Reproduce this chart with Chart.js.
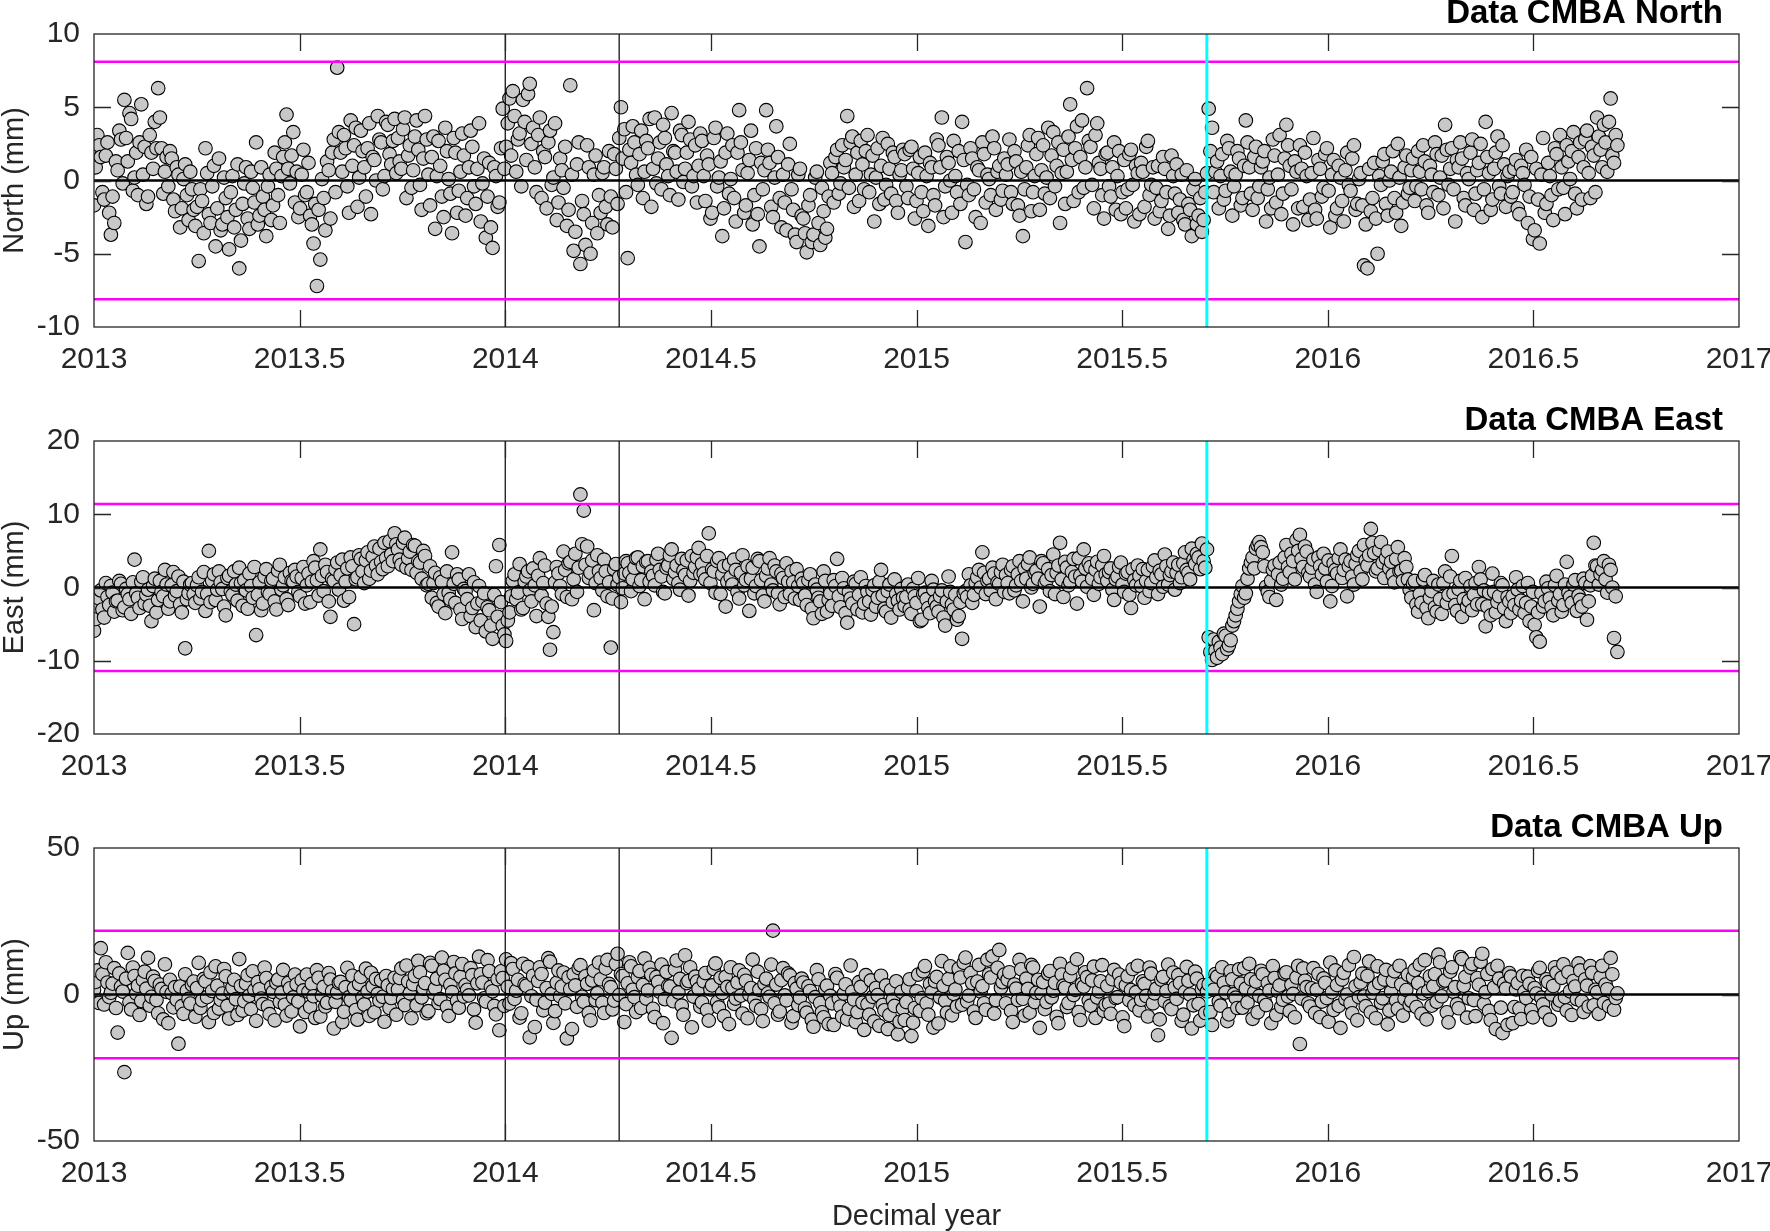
<!DOCTYPE html>
<html>
<head>
<meta charset="utf-8">
<script src="https://cdn.jsdelivr.net/npm/chart.js@4.4.1/dist/chart.umd.min.js"></script>
<style>
  html, body { margin: 0; padding: 0; background: #fff; }
  body { width: 1770px; height: 1231px; position: relative; overflow: hidden; }
  canvas { position: absolute; left: 0; }
</style>
</head>
<body>
<canvas id="north" width="1770" height="380" style="top:0px"></canvas>
<canvas id="east" width="1770" height="380" style="top:407px"></canvas>
<canvas id="up" width="1770" height="417" style="top:814px"></canvas>
<script>
// daily solutions read every 3 days from 2013.0 (main arrays)
// plus the in-between samples 1.5 days later (the *Mid arrays)
const START_YEAR = 2013.0;
const STEP_DAYS = 3;
const DAYS_PER_YEAR = 365.25;

const xTickRange = [2013, 2017];
const eventYears = [2014.0, 2014.277];   // thin black markers
const quakeYear = 2015.706;              // cyan marker

const northLimit = 8.1;
const eastLimit = 11.4;
const upLimit = 21.8;

// North (mm)
const north = [
  -1.7, 3.1, 1.6, -1.3, 2.6, -3.7, -2.9, 0.7, 2.8, 5.5, 1.3, 4.2, 0.2, -1.0, 5.2, 2.3, -1.1, 1.9, 4.0, 6.3, 2.2, 0.6, -0.4, 1.5, -2.1, 0.4, -1.9, 1.1, -2.7, -0.6,
  -3.1, -5.5, -1.4, 2.2, -2.3, -0.4, -4.5, 1.5, -3.0, -1.2, -4.7, 0.3, -2.0, -6.0, -1.6, 0.9, -3.3, -0.5, 2.6, -2.4, -1.1, -3.8, 0.4, -1.7, 0.8, -2.9, 1.6, 4.5, -0.2, 3.3,
  0.6, -1.9, 2.1, -0.8, -2.4, -4.3, -7.2, -5.4, -1.2, 1.3, -2.6, 2.8, 7.7, 1.9, 3.1, -0.4, 4.1, 2.4, -1.8, 3.4, 0.9, 2.2, -2.3, 1.4, 4.4, 2.6, 0.3, 3.8, 1.1, 4.2,
  2.9, 0.8, 4.3, 1.7, -0.5, 3.0, 2.1, -2.0, 4.4, 0.4, 1.6, -3.3, 2.7, -1.1, 3.6, 0.1, -3.6, 1.9, -0.7, 3.2, -2.4, 0.9, 2.3, -1.6, 3.9, -0.2, -3.9, 1.2, -4.6, 0.3,
  -1.5, 4.9, 2.3, 5.6, 6.1, 0.6, 3.2, 5.5, 1.4, 6.6, 3.6, -0.8, 4.3, 2.0, -1.9, 3.4, 0.2, -2.7, 1.5, -0.5, -3.1, 6.5, -4.8, 1.1, -5.7, -2.3, 2.4, -5.0, 0.4, -3.6,
  -2.2, 0.9, -3.0, -1.1, 1.8, -1.6, 5.0, 3.5, -5.3, 1.2, 2.6, -0.3, 3.4, 0.6, 2.2, -1.8, 4.3, 1.5, -0.6, 2.9, 0.3, 4.6, 1.9, -1.3, 3.1, 0.8, 4.0, -0.4, 2.4, 1.0,
  2.7, -1.4, 1.1, -2.2, 3.6, 0.2, -3.8, 1.9, -0.9, 2.4, -2.8, 4.8, 0.7, -1.7, 1.4, -3.0, 2.2, -4.5, -0.6, 4.8, 1.2, -2.5, 3.7, -1.2, 0.4, -3.4, 2.5, -2.0, -4.2, 0.8,
  -2.6, -4.9, -1.0, -3.7, 0.6, -4.4, -2.1, -3.3, 1.2, -1.5, 2.1, -0.2, 0.9, 4.4, 2.6, -1.8, 1.9, 2.7, -0.6, 3.1, 0.4, -2.8, 2.2, 1.0, -1.3, 2.5, -0.9, 1.6, -2.2, 0.7,
  1.8, -1.2, 2.3, -2.6, 0.5, -0.8, 1.9, -3.1, 0.9, -1.7, 2.4, 4.3, -0.4, 1.2, -2.2, 0.3, 2.0, 4.0, -4.2, -1.0, 1.5, -2.5, 0.7, 2.6, -1.5, 0.1, 3.0, -2.0, 1.0, -0.7,
  0.4, 2.8, -1.6, 1.3, -2.4, -3.8, 0.9, 3.1, -0.8, 1.8, -2.0, 2.4, 0.2, -1.2, 3.3, 1.0, -2.9, 2.1, 0.6, 5.2, -1.4, 3.7, 1.6, -0.5, 6.3, 2.3, -1.9, 3.9, 0.8, -2.6,
  1.9, -1.1, 2.6, 0.3, -2.3, 1.4, -0.6, 2.1, -2.8, 0.5, 1.2, -1.8, 2.7, -0.3, -2.6, 1.0, -1.4, 0.8, -3.3, 1.7, -0.9, -2.2, 0.4, -3.0, -1.6, -3.8, 0.1, -2.4, -3.5, -0.8,
  4.9, 3.6, 0.6, -1.9, 1.8, -0.7, 2.2, -2.4, 0.4, 1.5, -1.2, 4.1, 0.9, -2.0, 2.3, -0.4, 1.3, -2.8, 0.2, 2.8, -1.5, 3.1, -0.9, 3.8, 1.0, -3.0, 0.6, 2.4, -1.8, 0.3,
  -1.3, 2.9, -2.6, 0.8, -0.5, 2.2, -3.2, 1.4, -1.9, 0.2, -2.8, 1.9, -0.7, 2.4, -1.6, 0.5, -5.8, -6.0, -2.1, 1.2, -5.0, -0.3, 1.8, -2.4, 0.6, -1.2, 2.5, -3.1, 0.9, -0.9,
  0.7, -1.4, 2.0, -0.6, 1.3, -2.2, 0.4, 2.6, -1.0, 1.7, 3.8, -0.3, 2.2, -2.8, 0.9, 1.5, -1.7, 0.1, 2.8, -0.9, 1.2, -2.5, 4.0, 0.5, -1.3, 1.9, -0.4, 2.4, -1.8, 0.6,
  -0.8, 1.4, -2.3, 0.5, 2.1, -1.1, -4.0, 0.8, -4.3, 2.9, -1.6, 0.3, -2.7, 1.8, 3.1, -0.5, 2.4, 0.1, 3.3, -1.9, 2.6, 0.9, 3.4, -1.2, 1.7, 4.3, 2.1, 3.8, 0.6, 5.6, 1.2, 2.4
];
const northMid = [
  0.9, 2.4, -0.8, 1.7, -2.2, -1.1, 1.3, 3.4, -0.2, 2.9, 4.6, -0.7, 1.9, 2.6, 0.4, -1.6, 3.1, 0.8, 2.2, 4.3, -0.9, 1.6, 2.0, -1.3, 0.9, -3.2, 0.1, -1.0, 0.6, -2.0,
  -1.8, -0.6, -3.6, 0.5, -2.9, 1.0, -1.9, -3.4, 0.2, -2.5, -0.8, -3.2, 1.1, -4.1, -0.2, -2.6, 0.6, -1.5, -3.0, 0.9, -2.0, -0.4, -2.7, 1.9, -1.0, 0.3, 2.6, 0.8, 1.7, -1.5,
  -2.5, 0.4, -1.0, 1.2, -3.0, -1.6, -2.0, 0.1, -3.4, 0.7, 1.9, -0.8, 3.3, 0.6, 2.2, -2.2, 1.0, 3.6, 0.2, 2.0, -1.1, 3.9, 1.6, 0.0, 2.8, -0.6, 4.0, 1.8, 2.7, 0.5,
  1.3, 3.5, -1.2, 2.4, 0.7, 4.1, -0.3, 1.5, 2.8, -1.7, 3.0, 0.3, 1.0, -2.5, 2.0, -0.9, 2.9, -2.2, 0.6, 1.7, -1.2, 3.4, -0.4, 0.8, -2.8, 1.5, -1.1, -3.2, 0.9, -1.8,
  2.2, 0.8, 3.9, 1.7, 4.4, 2.8, -0.4, 4.0, 5.9, 2.5, 0.9, 3.1, -1.2, 1.6, 2.6, -0.3, 3.9, -1.5, 0.7, 2.3, -2.0, 0.4, -3.5, 2.6, -1.4, -4.4, 0.9, -2.9, 1.7, -1.0,
  0.5, -1.8, 2.0, -3.2, 0.8, 2.9, 1.5, -0.8, 2.1, 3.7, 0.4, 1.8, -1.2, 2.7, 4.2, 0.8, -0.2, 2.6, 3.8, 1.1, -1.0, 2.0, 0.6, 3.4, -0.1, 1.9, 2.8, 0.3, -1.5, 3.2,
  0.3, 1.7, -2.6, 2.9, -0.4, 1.3, -1.9, 3.2, 0.1, -1.2, 1.9, 2.6, -2.2, 0.5, 3.4, -1.0, -2.3, 1.2, 0.7, 2.1, -1.8, 0.2, 1.6, -3.2, -1.5, 1.1, -0.6, -3.7, 0.4, -2.4,
  -3.6, -1.7, -4.2, 0.2, -2.9, -0.5, -3.9, -1.1, 0.5, 1.6, -0.9, 2.4, 1.4, -0.5, 3.0, 0.4, -1.4, 1.1, 2.0, -0.8, 1.7, 0.2, -1.6, 2.9, -0.3, 0.8, 1.9, -1.4, 0.4, 2.1,
  -0.4, 2.1, 0.8, -1.4, 1.6, -2.1, 0.3, 1.2, -1.0, 2.8, 0.9, -2.5, 1.6, 0.0, 2.7, -0.8, -1.6, 1.4, -0.3, 2.2, -0.6, 0.9, -2.9, 1.8, 0.4, -1.0, 2.2, 0.6, -1.3, 1.5,
  1.1, -0.8, 2.0, -1.7, 0.6, -0.6, 2.4, -2.1, 0.3, 2.9, 0.7, -0.9, 3.6, 1.7, -0.4, 2.6, 0.5, -1.6, 3.0, 1.4, 2.2, -0.8, 4.1, 0.9, 2.7, -0.3, 3.1, 1.2, -1.0, 1.8,
  -0.4, 0.9, -2.0, 2.0, -0.8, -1.9, 1.8, -0.3, 1.0, -2.3, 0.6, 2.3, -1.0, 0.9, -0.5, -2.1, 1.6, -0.8, -2.4, 0.3, 1.1, -1.3, -2.7, 0.7, -2.0, -0.6, -3.0, -1.2, -2.7, 0.5,
  2.0, -0.8, 1.3, 0.3, -1.3, 2.7, 0.6, -0.4, 2.0, -1.7, 1.0, 2.6, -0.9, 1.6, -1.2, 0.9, 2.0, -0.6, -1.9, 1.7, 0.4, -2.3, 1.5, 2.4, -0.6, 1.3, -1.9, 0.8, 1.9, -2.7,
  0.5, -2.0, 1.4, -1.1, 1.8, -0.7, 0.4, -2.4, 1.0, -1.4, 0.7, -0.3, 1.5, -2.0, 0.1, -1.7, -3.0, 0.8, -1.2, -2.6, 0.3, 1.3, -1.6, 0.0, 2.0, -2.2, 0.2, -1.5, 1.7, -0.5,
  1.5, -0.4, 0.6, 2.4, -1.7, 1.0, -0.8, 1.8, 0.2, -1.9, 2.1, 0.8, -0.6, 1.4, 2.6, -1.2, 0.5, 1.9, -2.0, 0.7, 2.5, -0.6, 1.6, -2.0, 0.8, 3.0, -0.9, 1.1, 0.3, -1.1,
  0.8, -1.9, 1.0, -0.3, -2.9, 1.6, -3.4, -1.3, 0.4, -2.2, 1.2, -1.0, 2.2, -0.6, 0.9, -2.3, 1.3, 2.0, -0.9, 1.6, -1.3, 2.8, 0.5, 2.3, -0.8, 3.0, 0.9, 2.6, 4.0, 1.7, 3.1
];

// East (mm)
const east = [
  -5.9, -2.6, -0.4, -4.1, -1.3, 0.2, -3.3, -1.8, 0.5, -2.7, -0.9, -3.6, 3.8, -1.4, 0.8, -2.2, -0.3, -4.6, 1.2, -1.7, -0.6, 2.4, -2.9, 0.3, -1.1, 1.5, -3.4, -8.3, -0.8, 0.6,
  -2.1, 1.4, -0.6, -3.2, 5.0, 0.9, -1.7, 2.2, -0.2, -3.8, 1.6, -1.0, 0.4, 2.7, -2.5, -0.4, 1.9, -1.4, -6.5, 0.7, -2.2, 2.5, -0.9, 1.2, -3.0, 3.1, 0.3, -1.6, 2.0, 0.8,
  1.5, -1.2, 2.8, 0.3, -2.0, 3.6, 1.0, 5.2, -0.5, 2.1, -4.0, 0.9, 3.4, 1.7, -1.8, 2.6, 4.1, -5.0, 1.4, 3.9, 0.6, 4.8, 2.3, 5.6, 1.8, 3.5, 6.1, 2.9, 4.5, 7.4,
  5.2, 3.1, 6.8, 4.0, 2.4, 5.7, 3.6, 1.2, 4.3, 0.5, -1.4, 2.0, -2.6, 0.8, -3.5, -0.7, 4.8, -2.1, 1.1, -4.3, -0.5, 1.8, -2.8, -5.4, 0.2, -1.9, -6.0, -3.1, -7.0, 2.9,
  5.8, -5.2, -7.3, -3.4, 0.9, -1.6, 3.2, -2.8, 1.5, -0.4, 2.6, -3.9, 4.0, 0.6, -2.2, -8.5, -6.1, 2.8, 0.2, 4.9, -1.3, 3.5, 1.1, -0.6, 12.7, 10.5, 5.6, 2.0, -3.1, 4.4,
  1.3, 3.8, -1.2, -8.2, 2.5, 0.4, -2.0, 1.9, 3.3, -0.5, 2.7, 4.1, 1.0, -1.6, 3.6, 2.2, 0.3, 4.6, 1.5, -0.8, 3.0, 5.2, 2.1, 0.6, 3.9, 1.7, -1.1, 4.3, 2.8, 5.4,
  3.2, 1.1, 7.4, 2.5, -0.7, 4.0, 1.8, -2.6, 3.1, 0.4, 2.4, -1.5, 4.4, 1.0, -3.2, 2.7, 0.2, 3.6, -1.1, 1.6, 4.0, -0.4, 2.2, -2.3, 1.3, 3.3, -0.9, 0.7, 2.5, -1.7,
  0.6, -2.4, 1.8, -4.2, -0.3, -1.9, 2.2, -3.3, -0.8, 1.0, 3.9, -2.7, -0.1, -4.8, -1.5, 0.8, -3.0, 1.4, -2.2, -0.6, -3.7, 0.3, -1.4, 2.4, -2.9, -0.5, -4.1, 1.1, -1.8, -0.2,
  -2.5, 0.4, -3.6, -1.2, 1.3, -4.4, -0.7, -2.8, 0.9, -1.9, -3.3, -0.4, -5.2, 1.5, -2.3, -1.0, -3.9, -7.0, -0.5, 1.8, -2.1, 0.6, 2.4, 4.8, -0.9, 1.2, 2.7, -1.6, 0.5, 3.1,
  1.7, -0.8, 2.9, 0.3, 3.6, -1.9, 1.2, 4.1, 0.5, 2.3, -2.6, 3.3, 1.0, -0.5, 4.5, 2.0, 6.1, -1.3, 2.7, 0.8, 3.9, -2.2, 1.6, 5.2, 0.1, 2.8, -1.0, 3.5, 1.4, 4.3,
  0.9, 2.6, -1.7, 1.5, 3.4, -0.6, 2.1, -2.8, 1.0, 3.0, 0.2, -1.4, 2.4, 0.6, 3.7, -0.9, 1.8, 4.5, 0.4, 2.2, -0.3, 3.1, 1.4, 4.8, 2.0, 5.3, 3.2, 4.1, 6.0, 2.7,
  -6.8, -9.9, -8.6, -7.4, -9.1, -6.6, -7.9, -5.2, -3.8, -1.9, 0.2, -0.8, 2.6, 4.1, 5.3, 6.2, 4.8, 0.1, -1.3, 2.4, -1.7, 3.4, 1.2, 5.8, 2.1, 3.6, 6.5, 7.2, 2.8, 4.9,
  1.5, 3.8, -0.6, 2.9, 4.6, 0.8, -1.9, 3.3, 1.9, 5.2, 2.4, -1.2, 3.6, 0.4, 4.4, 2.2, 5.8, 3.0, 8.0, 4.7, 2.6, 6.2, 1.3, 4.9, 3.5, 0.7, 5.5, 2.3, 4.0, 1.1,
  -1.4, 0.9, -3.3, -2.1, 1.7, -4.2, -0.5, -2.7, 0.4, -3.6, 2.2, -1.0, 4.3, -2.4, -0.2, -4.0, 1.3, -1.8, -3.1, 0.6, 2.8, -2.3, -5.3, -0.7, 1.9, -3.4, -1.2, 0.3, -4.6, -1.9,
  -1.2, 1.4, -3.0, 0.2, -2.1, -4.6, -0.6, -6.8, -7.4, -2.6, 0.8, -1.5, -3.8, 1.6, -0.9, -2.4, 3.5, -1.3, 0.4, -3.2, -1.7, 1.2, -4.4, 0.3, 6.1, 2.9, 1.8, 3.6, -0.7, 2.4, -6.9, -8.8
];
const eastMid = [
  -4.3, -1.5, -3.0, 0.6, -2.4, -0.7, -1.9, 0.9, -3.1, -0.2, -1.6, 0.7, -0.8, -2.8, 1.4, -1.0, -2.5, 0.2, -3.4, 0.9, -1.2, 0.4, -1.9, 2.1, -0.5, -2.3, 0.8, -1.6, 0.4, -0.9,
  0.3, -1.5, 2.1, -0.9, -2.0, 1.8, -0.3, 0.7, -2.6, 1.3, -0.5, 2.2, -1.8, 0.6, 1.0, -2.9, 0.2, 2.8, -1.0, -3.1, 1.5, -0.6, 0.9, -1.9, 2.3, -0.3, 1.4, -2.4, 0.9, 2.4,
  -0.6, 1.3, -2.2, 1.9, 0.8, 2.7, -1.1, 1.6, 3.1, -1.9, 1.2, 2.5, -0.3, 3.8, 0.8, -1.3, 2.9, 1.1, 4.4, 2.2, 3.7, 1.2, 4.2, 3.0, 5.3, 2.5, 4.0, 6.3, 3.6, 5.9,
  3.8, 6.1, 2.7, 4.9, 5.8, 2.0, 3.4, 5.0, 0.3, 2.9, 0.6, -2.1, 1.4, -0.9, 2.2, -1.6, 0.5, 1.8, -3.0, -0.2, -1.6, -3.9, 0.7, -2.2, -4.5, -0.8, -2.7, -5.2, -1.0, -4.0,
  -2.0, -6.4, -4.5, -1.2, 1.8, -0.7, -3.0, 0.8, 2.2, -1.9, 0.3, 1.6, -1.1, 3.0, -4.0, -2.6, 0.7, 1.9, -0.9, 2.4, 3.3, -1.6, 4.6, 2.7, 5.9, 3.1, 1.3, 3.7, 0.6, 2.2,
  -0.4, 2.2, 0.7, -1.5, 3.2, 1.4, -0.1, 3.6, 2.0, 1.1, 4.0, 0.2, 2.9, 3.5, 0.8, 1.6, 3.8, 2.4, -0.6, 2.7, 4.4, 1.2, 3.0, -0.3, 2.3, 3.7, 0.9, 2.0, 4.1, 1.8,
  1.9, 4.3, 0.6, 2.2, 3.6, -0.9, 2.9, 0.8, 1.4, 3.8, -0.6, 2.0, 0.3, 2.9, 1.2, -0.8, 3.9, 1.0, -1.9, 2.6, 0.4, 3.0, -0.8, 1.9, -1.3, 0.8, 2.2, -1.5, 0.2, 1.2,
  -1.1, 1.0, -2.9, 0.4, -1.4, -3.6, 0.9, -1.7, -2.5, 0.2, -1.2, 1.3, -3.5, -0.6, -2.2, 0.5, -1.0, -3.4, 0.2, -1.9, -0.4, -2.6, 0.8, -1.1, -3.3, 0.4, -2.0, -0.9, -3.0, -1.4,
  -1.3, -3.0, -0.2, -2.1, -4.6, -0.9, -1.6, -3.5, -0.3, -2.6, -1.2, -4.1, -1.9, -0.6, -3.0, -4.4, -2.0, -0.8, -1.3, 0.3, -1.0, 1.4, 0.0, 2.0, 0.9, -0.4, 1.9, 0.7, 2.1, -0.6,
  0.6, 2.4, -0.4, 1.8, 0.9, 2.6, 3.2, 0.0, 2.0, 1.2, 3.6, 0.6, 2.5, 1.7, -0.9, 3.0, 1.1, 3.5, 0.3, 2.1, 1.5, 4.0, 0.8, 2.6, 3.3, 1.2, 2.4, 0.5, 3.0, 1.8,
  2.1, -0.3, 1.1, 2.8, 0.4, 1.9, -1.0, 2.5, 0.3, 1.6, 2.5, 0.9, -0.5, 2.9, 1.4, 2.3, 0.1, 2.9, 1.7, 3.4, 2.0, 0.6, 3.3, 2.4, 1.1, 3.8, 4.6, 2.5, 3.6, 5.2,
  -8.8, -7.1, -9.6, -8.2, -6.3, -8.4, -7.2, -4.6, -2.9, -0.9, -1.4, 1.2, 3.4, 2.6, 5.8, 5.5, 2.9, -0.6, 0.9, 3.0, 1.8, 0.4, 4.1, 2.8, 4.6, 1.1, 5.0, 3.9, 5.6, 2.0,
  2.7, 0.4, 4.1, 1.8, 2.6, 3.7, 0.2, 2.4, 4.0, 1.3, 3.8, 2.9, 1.5, 3.2, 5.0, 1.1, 3.7, 4.4, 6.1, 2.2, 5.1, 3.4, 4.0, 2.6, 1.7, 3.9, 2.2, 0.9, 2.8, -0.3,
  0.5, -2.3, -0.9, 1.1, -2.8, -1.4, 0.9, -3.3, -1.6, 0.6, -2.1, 1.5, -0.8, -3.2, 0.9, -1.6, -2.6, 0.2, -1.0, -2.3, 1.1, -0.4, -2.6, -3.8, -0.6, -2.0, 0.6, -2.8, -1.3, -3.5,
  -2.4, -0.3, -1.8, -3.5, 0.6, -2.6, -5.1, -3.4, -0.8, -1.9, -0.1, -2.7, 0.3, -1.8, -3.3, 0.4, -0.7, -2.1, 1.0, -1.1, -2.6, 0.6, -1.9, 1.6, 3.0, 0.4, 2.4, 1.1, 3.1, 0.0, -1.2
];

// Up (mm)
const up = [
  1.5, 8.2, 15.8, -3.4, 4.1, 0.6, 9.0, -13.0, 2.7, -26.5, 14.2, -5.1, 6.3, 3.0, -2.2, 7.8, 12.5, -0.8, 4.6, -6.4, 1.9, 10.3, -9.8, 0.4, 2.5, -16.8, -4.0, 6.9, -1.5, 3.3,
  -7.6, 10.8, -2.0, 4.5, -9.4, 1.2, 9.6, -4.8, 0.3, 6.2, -8.2, 2.4, -1.6, 12.1, -5.5, 3.7, -0.4, 7.9, -9.0, 1.8, -3.3, 5.6, -6.7, 0.9, 4.0, -2.6, 8.4, -7.2, 2.1, -1.0,
  3.5, -10.9, 1.4, 6.8, -4.2, -0.6, 8.3, -7.5, 2.6, -2.8, 5.1, -11.6, 0.7, 4.3, -5.9, 9.1, -1.9, 2.2, -8.6, 6.0, -3.4, 1.0, 7.4, -6.1, 0.2, 4.8, -9.3, 3.1, -1.2, 5.7,
  1.7, 8.9, -3.6, 4.4, -8.1, 6.3, 11.5, -1.0, 3.9, -5.7, 9.8, 2.1, -2.9, 12.6, 5.0, -7.3, 0.8, 7.2, -4.5, 10.4, 3.2, -0.3, 6.6, -9.6, 12.9, 4.1, -2.4, 8.0, 1.1, -6.8,
  -12.2, 5.6, 12.0, -3.1, 8.7, 1.3, -7.9, 10.5, 3.0, -14.6, 6.4, -1.8, 9.3, -5.4, 2.2, 11.2, -9.7, 4.0, -0.6, 7.5, -15.0, 1.8, 6.9, -4.2, 10.0, -2.5, 3.6, -8.8, 8.1, 0.4,
  5.2, -6.3, 11.8, 2.5, -2.1, 13.9, 7.0, -9.4, 3.8, 9.6, -0.9, 5.9, -4.6, 12.3, 1.4, 6.7, -7.7, 4.3, 10.2, -1.6, 2.9, -14.8, 8.5, 0.7, -3.8, 13.4, 4.6, -11.2, 6.1, 1.9,
  -2.7, 7.3, -8.9, 3.1, 10.6, -4.4, 0.5, 6.0, -10.1, 2.3, -1.4, 8.2, -6.5, 4.7, 0.0, 11.9, -3.9, 1.6, -9.1, 5.4, -0.8, 21.8, 3.4, -5.8, 9.0, -2.0, 6.5, -7.4, 2.0, -1.1,
  4.1, -6.2, 1.2, -11.0, 8.3, -2.9, -7.8, 3.0, -0.5, -10.4, 5.7, -4.1, 0.3, -8.5, 9.9, -1.7, -6.0, 2.6, -12.1, -3.3, 4.8, -9.2, -0.2, 6.4, -5.4, -11.8, 1.5, -3.9, -13.6, 0.9,
  -8.7, 2.4, -14.2, -4.6, 6.8, -1.3, 9.7, -6.9, 0.8, 4.5, -9.9, 11.4, -2.2, 5.3, -7.1, 1.7, 8.8, -3.5, 12.6, -0.4, 3.9, -8.0, 10.1, 2.8, -5.2, 6.9, 13.0, -1.9, 15.2, 4.2,
  -3.0, 7.6, -9.4, 2.0, 11.8, -1.5, 5.4, -6.2, 9.2, 0.6, -11.4, 4.2, -2.6, 8.0, 1.3, -7.6, 10.5, 3.0, -4.3, 6.3, -0.2, 12.0, -8.7, 2.7, 5.9, -3.8, 9.5, -1.0, 4.5, -5.6,
  2.9, -6.6, 8.4, -0.9, 4.0, -10.8, 6.2, 1.5, -3.7, 9.8, -1.8, 3.6, -7.5, 7.1, 0.4, -13.9, 5.0, -2.3, 10.2, -5.0, 2.4, 6.6, -9.0, 0.9, 4.7, -11.6, 7.8, -3.2, 1.8, -6.3,
  3.5, -10.4, 7.0, -2.4, 9.3, 0.7, -6.8, 5.2, -1.1, 8.6, -4.5, 2.0, 10.5, -8.3, 4.4, -0.5, 6.9, -3.6, 1.3, 9.7, -7.0, 3.1, -1.8, 7.6, -5.7, 0.2, 5.8, -16.9, 8.9, 2.5,
  -4.1, 9.0, 1.6, -7.7, 5.5, -1.2, 10.9, -5.3, 3.2, -11.4, 7.4, 0.0, -3.0, 12.8, -8.8, 4.1, -0.7, 6.3, -6.1, 2.3, 9.6, -2.8, 5.1, -10.2, 1.0, 7.9, -4.9, 3.4, -1.5, 6.7,
  -2.2, 8.4, 3.9, -6.6, 11.7, 1.2, -3.8, 7.0, 13.6, -0.6, 4.8, -9.5, 9.3, 2.5, -4.7, 12.1, 6.0, -1.3, 10.4, -7.4, 3.3, 13.9, 0.8, -5.6, 8.7, -11.8, 5.4, -13.2, 2.0, 7.3,
  -9.8, 1.7, -4.9, 6.4, -1.2, 3.6, -7.8, 0.3, 9.1, -3.4, 5.2, -8.6, 2.9, 7.4, -2.1, 10.3, -5.5, 1.1, 4.6, -1.6, 8.2, -6.0, 3.0, 9.7, -3.7, 0.8, 5.9, -2.9, 1.8, 12.5, -5.2, 0.4
];
const upMid = [
  4.3, -2.9, 6.9, 11.0, -0.9, 3.7, -4.6, 7.2, 1.0, 5.4, -2.6, 9.2, 0.3, -7.0, 4.9, 2.0, -3.8, 6.1, -1.9, 3.4, -8.5, 0.9, 5.0, -4.4, -1.8, 2.7, -6.6, 1.3, -3.1, 4.4,
  2.2, -4.6, 5.3, -0.9, 7.6, -6.3, 3.0, -1.8, 8.7, -3.9, 0.8, 5.0, -7.0, 2.9, -2.3, 6.6, -5.0, 1.5, 4.2, -1.4, 9.2, -4.1, 2.6, -8.8, 5.1, 0.6, -3.5, 3.9, -5.8, 6.8,
  -2.4, 4.9, -6.0, 0.9, 3.6, -8.0, 5.7, -0.4, -4.1, 7.3, 1.1, -2.5, 4.0, -9.4, 2.5, -0.9, 6.4, -5.3, 3.6, -1.0, 8.8, -7.3, 2.8, 5.3, -2.1, -0.8, 6.3, -4.6, 1.9, -6.9,
  5.6, -1.8, 9.9, 0.4, 3.5, -3.7, 7.6, 2.0, -6.4, 10.8, 0.6, 5.4, -1.6, 8.1, -4.2, 3.3, 11.1, -2.2, 6.0, -0.7, 1.6, 9.0, -5.1, 3.8, 6.9, -1.3, 11.7, 2.6, -3.9, 5.2,
  7.9, -3.9, 2.6, 10.7, -1.5, 5.0, -6.4, 3.5, 9.4, -0.6, -11.1, 4.6, 7.0, -2.8, 12.4, 0.2, -5.7, 8.2, 2.7, -3.0, 5.9, -11.8, 3.1, 9.0, -0.8, 6.2, -6.3, 4.8, -1.9, 10.9,
  -2.8, 8.9, 3.6, -5.1, 10.4, -0.2, 6.3, -3.3, 11.0, 1.6, -6.0, 8.0, 3.2, -1.4, 9.1, -4.9, 6.0, 0.9, -9.8, 7.7, 2.7, -2.3, 11.6, 5.3, -6.9, 3.9, 9.3, -0.7, 4.4, -4.2,
  4.5, -5.3, 1.7, 8.7, -2.6, 5.7, -7.4, 2.6, 9.3, -3.2, 4.1, -0.4, 6.7, -8.1, 2.2, -1.6, 7.8, -5.0, 3.6, 0.4, 10.2, -3.0, -6.9, 4.9, -0.3, 7.2, -9.6, 3.9, -3.6, 5.4,
  -4.7, 2.8, -8.6, -0.9, 5.2, -6.1, 1.8, -10.1, -3.0, 7.0, -1.4, -7.5, 3.5, -4.9, 0.9, -9.4, 4.2, -2.8, 6.6, -6.9, -0.8, 2.2, -10.7, -3.6, 3.1, -7.0, -1.8, 4.5, -9.3, -4.8,
  -2.6, 5.2, -9.6, 1.1, -5.6, 7.9, -3.0, 3.6, -11.3, 6.0, -1.0, 2.9, -6.2, 9.6, 0.2, -4.1, 5.8, 10.8, -2.4, 7.3, -5.8, 4.4, 1.0, -3.0, 11.9, 5.8, -6.5, 9.1, 2.3, 6.8,
  5.1, -5.6, 3.4, -1.9, 8.6, -7.2, 1.9, 10.1, -2.6, 5.0, 0.4, -5.0, 7.1, -1.0, 4.0, -9.8, 6.8, 2.3, -2.9, 9.0, 1.6, -6.0, 3.6, 7.6, -2.0, 4.8, -8.0, 1.1, 10.0, -3.5,
  -3.1, 5.2, -1.2, 6.8, -7.8, 3.1, -2.0, 8.7, 0.8, -5.4, 4.5, -0.5, 9.2, -3.0, 2.0, -8.5, 6.0, 1.2, -4.0, 7.5, -1.5, 3.9, -6.9, 9.4, 0.0, -3.7, 5.4, -8.9, 3.2, 1.0,
  -6.0, 1.6, 6.1, -3.8, 4.0, -9.1, 7.9, 0.1, -4.6, 3.7, 9.0, -2.7, 5.2, 0.8, -6.1, 8.1, -1.9, 3.9, -9.8, 5.6, 1.2, -4.2, 7.1, -0.7, 3.3, -7.8, 9.8, -1.4, 4.7, -3.0,
  2.1, -6.3, 7.0, -2.4, 4.0, -9.3, 0.8, 8.2, -3.9, 5.1, -1.6, 10.0, -6.4, 2.8, -0.9, 7.1, -4.0, 11.3, 0.6, -8.1, 3.9, -1.3, 8.4, -5.5, 4.6, -2.0, 9.8, -7.2, 1.5, -3.6,
  5.9, -4.3, 10.2, 0.4, -8.5, 6.2, 2.8, -2.5, 11.0, 4.4, -6.1, 7.8, 0.9, -3.3, 12.8, 3.0, -7.9, 9.2, -1.9, 5.6, 11.2, -3.2, 7.0, -8.7, 2.4, 9.8, -4.5, 3.7, -10.4, 6.1,
  -4.3, 3.9, -8.4, 0.9, 6.1, -5.3, 2.2, 8.0, -1.1, -6.2, 4.2, 0.0, 9.3, -3.5, 5.7, -0.9, 7.6, -7.0, 2.7, 10.6, -2.4, 5.2, -4.1, 7.4, 1.6, -6.6, 9.8, 3.4, -4.0, 6.9, -1.2
];

const FONT = '"Liberation Sans", Arial, Helvetica, sans-serif';
const TEXT_COLOR = '#262626';
Chart.defaults.font.family = FONT;
Chart.defaults.color = TEXT_COLOR;

// box around the plot, inward MATLAB-style ticks, panel title
const framePlugin = {
  id: 'frame',
  afterDraw(chart, args, opts) {
    const { ctx, chartArea: a } = chart;
    const xs = chart.scales.x, ys = chart.scales.y;
    const tl = 17;
    ctx.save();
    ctx.strokeStyle = TEXT_COLOR;
    ctx.lineWidth = 1.3;
    ctx.beginPath();
    xs.ticks.forEach(t => {
      if (t.value <= xs.min || t.value >= xs.max) return;
      const px = Math.round(xs.getPixelForValue(t.value)) + 0.5;
      ctx.moveTo(px, a.bottom); ctx.lineTo(px, a.bottom - tl);
      ctx.moveTo(px, a.top); ctx.lineTo(px, a.top + tl);
    });
    ys.ticks.forEach(t => {
      if (t.value <= ys.min || t.value >= ys.max) return;
      const py = Math.round(ys.getPixelForValue(t.value)) + 0.5;
      ctx.moveTo(a.left, py); ctx.lineTo(a.left + tl, py);
      ctx.moveTo(a.right, py); ctx.lineTo(a.right - tl, py);
    });
    ctx.stroke();
    ctx.strokeRect(a.left, a.top, a.right - a.left, a.bottom - a.top);

    ctx.fillStyle = '#000';
    ctx.font = 'bold 33px ' + FONT;
    ctx.textAlign = 'right';
    ctx.textBaseline = 'alphabetic';
    ctx.fillText(opts.text, a.right - 16, a.top - 11);
    ctx.restore();
  }
};

function lineSet(data, color, width, order) {
  return { data, showLine: true, borderColor: color, borderWidth: width,
           pointRadius: 0, fill: false, order };
}

function toPoints(values, mid) {
  const dt = STEP_DAYS / DAYS_PER_YEAR;
  const pts = values.map((v, i) => ({ x: START_YEAR + i * dt, y: v }));
  mid.forEach((v, i) => pts.push({ x: START_YEAR + (i + 0.5) * dt, y: v }));
  return pts.sort((p, q) => p.x - q.x);
}

function buildPanel(canvasId, titleText, axisLabel, values, mid, limit, yMax, yStep, xTitle) {
  const points = toPoints(values, mid);
  const [x0, x1] = xTickRange;
  const canvas = document.getElementById(canvasId);
  const xHeight = canvas.height - 34 - 293;

  const datasets = [
    lineSet([{ x: quakeYear, y: -yMax }, { x: quakeYear, y: yMax }], '#00ffff', 3, 0),
    lineSet([{ x: x0, y: 0 }, { x: x1, y: 0 }], '#000', 2.6, 1),
    lineSet([{ x: x0, y: limit }, { x: x1, y: limit }], '#ff00ff', 2.5, 1),
    lineSet([{ x: x0, y: -limit }, { x: x1, y: -limit }], '#ff00ff', 2.5, 1),
    ...eventYears.map(yr => lineSet([{ x: yr, y: -yMax }, { x: yr, y: yMax }], '#000', 1.2, 1)),
    { data: points, pointRadius: 6.8, pointBackgroundColor: '#c8c8c8',
      pointBorderColor: '#000', pointBorderWidth: 1.1, order: 2 }
  ];

  return new Chart(canvas, {
    type: 'scatter',
    data: { datasets },
    plugins: [framePlugin],
    options: {
      responsive: false,
      animation: false,
      devicePixelRatio: 1,
      events: [],
      layout: { padding: { top: 34, right: 31, bottom: 0, left: 0 } },
      plugins: {
        legend: { display: false },
        tooltip: { enabled: false },
        frame: { text: titleText }
      },
      scales: {
        x: {
          type: 'linear',
          min: x0,
          max: x1,
          grid: { display: false, drawTicks: false },
          border: { display: false },
          ticks: {
            stepSize: 0.5,
            padding: 15,
            maxRotation: 0,
            autoSkip: false,
            font: { size: 30 },
            color: TEXT_COLOR,
            callback: v => Number.isInteger(v) ? String(v) : v.toFixed(1)
          },
          title: {
            display: !!xTitle,
            text: xTitle || '',
            font: { size: 29, lineHeight: 1 },
            color: TEXT_COLOR,
            padding: { top: 0, bottom: 0 }
          },
          afterFit(scale) {
            scale.height = xHeight;
            scale.paddingLeft = 0;
            scale.paddingRight = 0;
          }
        },
        y: {
          min: -yMax,
          max: yMax,
          grid: { display: false, drawTicks: false },
          border: { display: false },
          ticks: {
            stepSize: yStep,
            padding: 14,
            font: { size: 30 },
            color: TEXT_COLOR,
            callback: v => String(v)
          },
          title: {
            display: true,
            text: axisLabel,
            font: { size: 29, lineHeight: 1 },
            color: TEXT_COLOR,
            padding: { top: 0, bottom: 0 }
          },
          afterFit(scale) {
            scale.width = 94;
            scale.paddingTop = 0;
            scale.paddingBottom = 0;
          }
        }
      }
    }
  });
}

buildPanel('north', 'Data CMBA North', 'North (mm)', north, northMid, northLimit, 10, 5, null);
buildPanel('east', 'Data CMBA East', 'East (mm)', east, eastMid, eastLimit, 20, 10, null);
buildPanel('up', 'Data CMBA Up', 'Up (mm)', up, upMid, upLimit, 50, 50, 'Decimal year');
</script>
</body>
</html>
